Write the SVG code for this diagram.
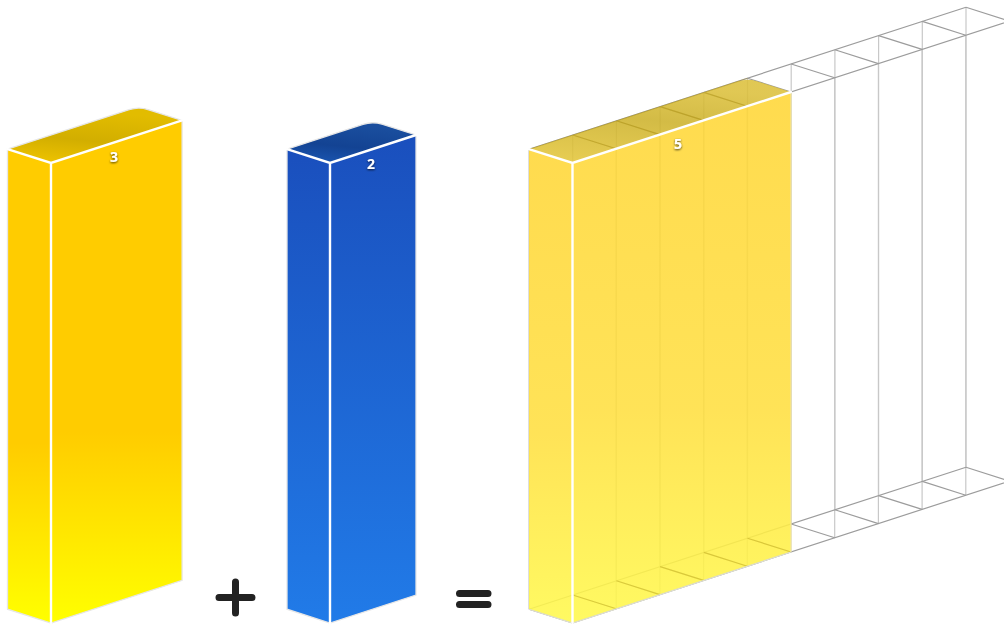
<svg xmlns="http://www.w3.org/2000/svg" width="1004" height="624" viewBox="0 0 1004 624">
<defs>
<linearGradient id="yFront" x1="0" y1="0" x2="0" y2="1">
<stop offset="0" stop-color="#FFCC00"/>
<stop offset="0.62" stop-color="#FFCC00"/>
<stop offset="1" stop-color="#FFFF00"/>
</linearGradient>
<linearGradient id="yTop" x1="0" y1="1" x2="0.3" y2="0">
<stop offset="0" stop-color="#F2C600"/>
<stop offset="0.5" stop-color="#D2AE00"/>
<stop offset="1" stop-color="#E2BC00"/>
</linearGradient>
<linearGradient id="bFront" x1="0" y1="0" x2="0" y2="1">
<stop offset="0" stop-color="#1A4FBD"/>
<stop offset="1" stop-color="#217BE8"/>
</linearGradient>
<linearGradient id="bTop" x1="0" y1="1" x2="0.3" y2="0">
<stop offset="0" stop-color="#1B58B5"/>
<stop offset="0.5" stop-color="#134393"/>
<stop offset="1" stop-color="#1A4E9E"/>
</linearGradient>
<linearGradient id="tFront" x1="0" y1="0" x2="0" y2="1">
<stop offset="0" stop-color="#FFD636"/>
<stop offset="0.6" stop-color="#FFDF40"/>
<stop offset="1" stop-color="#FFF94C"/>
</linearGradient>
<linearGradient id="tTop" x1="0" y1="1" x2="0.3" y2="0">
<stop offset="0" stop-color="#E6C83C"/>
<stop offset="0.6" stop-color="#CDB22C"/>
<stop offset="1" stop-color="#DCC03C"/>
</linearGradient>
<filter id="sh" x="-50%" y="-50%" width="200%" height="200%">
<feDropShadow dx="0" dy="1" stdDeviation="1" flood-color="#000" flood-opacity="0.75"/>
</filter>
</defs>
<style>
.edge{fill:none;stroke:#e6e6e6;stroke-width:1.3}
.hi{fill:none;stroke:#ffffff;stroke-width:2.4;stroke-linecap:round}
.wl{stroke:#9c9c9c;stroke-width:1.2;fill:none}
.wv{stroke:#c8c8c8;stroke-width:1.2;fill:none}
.il{stroke:#A08000;stroke-opacity:0.3;stroke-width:1.2;fill:none}
.lbl{font-family:"Open Sans","Noto Sans","DejaVu Sans",sans-serif;font-weight:bold;font-size:14px;fill:#ffffff;text-anchor:middle}
.op{stroke:#222;stroke-width:7;stroke-linecap:round;fill:none}
</style>

<g id="block-3">
<path d="M7.5,149.2 L51,163 L51,623 L7.5,609.2 Z" fill="url(#yFront)"/>
<path d="M51,163 L182.1,120.4 L182.1,580.4 L51,623 Z" fill="url(#yFront)"/>
<path d="M7.5,149.2 L51,163 L182.1,120.4 L148,109.6 Q138.6,106.6 129.1,109.7 Z" fill="url(#yTop)"/>
<path class="edge" d="M7.5,149.2 L129.1,109.7 Q138.6,106.6 148,109.6 L182.1,120.4 L182.1,580.4 L51,623 L7.5,609.2 Z"/>
<path class="hi" d="M7.5,149.2 L51,163 L182.1,120.4 M51,163 L51,623"/>
<text class="lbl" x="114" y="162" filter="url(#sh)">3</text>
</g>

<g id="block-2">
<path d="M287,149.2 L330,163 L330,623 L287,609.2 Z" fill="url(#bFront)"/>
<path d="M330,163 L416,135 L416,595 L330,623 Z" fill="url(#bFront)"/>
<path d="M287,149.2 L330,163 L416,135 L382,124.2 Q372.5,121.2 363,124.3 Z" fill="url(#bTop)"/>
<path class="edge" d="M287,149.2 L363,124.3 Q372.5,121.2 382,124.2 L416,135 L416,595 L330,623 L287,609.2 Z"/>
<path class="hi" d="M287,149.2 L330,163 L416,135 M330,163 L330,623"/>
<text class="lbl" x="371" y="169" filter="url(#sh)">2</text>
</g>

<g id="plus">
<path class="op" d="M219,597.5 L252,597.5 M235.5,582 L235.5,613"/>
</g>

<g id="equals">
<path class="op" d="M459.5,593.5 L488,593.5 M459.5,604.5 L488,604.5"/>
</g>

<g id="grid-10">
<g class="wv">
<path d="M572.5,163V623 M616.2,148.8V608.8 M659.9,134.6V594.6 M703.6,120.4V580.4 M747.3,106.2V566.2 M791,92V552 M834.7,77.8V537.8 M878.4,63.6V523.6 M922.1,49.4V509.4 M965.8,35.2V495.2"/>
<path d="M529,149.2V609.2 M572.7,135V595 M616.4,120.8V580.8 M660.1,106.6V566.6 M703.8,92.4V552.4 M747.5,78.2V538.2 M791.2,64V524 M834.9,49.8V509.8 M878.6,35.6V495.6 M922.3,21.4V481.4 M966,7.2V467.2"/>
</g>
<g class="wl">
<path d="M572.5,163 L1009.5,21 M529,149.2 L966,7.2 M572.5,623 L1009.5,481 M529,609.2 L966,467.2"/>
<path d="M572.5,163L529,149.2 M616.2,148.8L572.7,135 M659.9,134.6L616.4,120.8 M703.6,120.4L660.1,106.6 M747.3,106.2L703.8,92.4 M791,92L747.5,78.2 M834.7,77.8L791.2,64 M878.4,63.6L834.9,49.8 M922.1,49.4L878.6,35.6 M965.8,35.2L922.3,21.4 M1009.5,21L966,7.2"/>
<path d="M572.5,623L529,609.2 M616.2,608.8L572.7,595 M659.9,594.6L616.4,580.8 M703.6,580.4L660.1,566.6 M747.3,566.2L703.8,552.4 M791,552L747.5,538.2 M834.7,537.8L791.2,524 M878.4,523.6L834.9,509.8 M922.1,509.4L878.6,495.6 M965.8,495.2L922.3,481.4 M1009.5,481L966,467.2"/>
</g>
</g>

<g id="block-5">
<path d="M529,149.2 L572.5,163 L572.5,623 L529,609.2 Z" fill="url(#tFront)" fill-opacity="0.88"/>
<path d="M572.5,163 L791,92 L791,552 L572.5,623 Z" fill="url(#tFront)" fill-opacity="0.88"/>
<path d="M529,149.2 L572.5,163 L791,92 L757,81.2 Q747.5,78.2 738,81.3 Z" fill="url(#tTop)" fill-opacity="0.88"/>
<path class="il" d="M616.2,148.8L572.7,135 M659.9,134.6L616.4,120.8 M703.6,120.4L660.1,106.6 M747.3,106.2L703.8,92.4 M529,149.2 L747.5,78.2"/>
<path class="il" d="M616.2,608.8L572.7,595 M659.9,594.6L616.4,580.8 M703.6,580.4L660.1,566.6 M747.3,566.2L703.8,552.4 M791,552L747.5,538.2"/>
<path d="M791,92 L791,552" stroke="#f4e8a8" stroke-width="1.2" fill="none"/>
<path d="M529,609.2 L572.5,623 L791,552" stroke="#e0e0d0" stroke-width="1.2" fill="none"/>
<path class="hi" d="M529,149.2 L572.5,163 L791,92 M572.5,163 L572.5,623"/>
<text class="lbl" x="678" y="149" filter="url(#sh)">5</text>
</g>
</svg>
